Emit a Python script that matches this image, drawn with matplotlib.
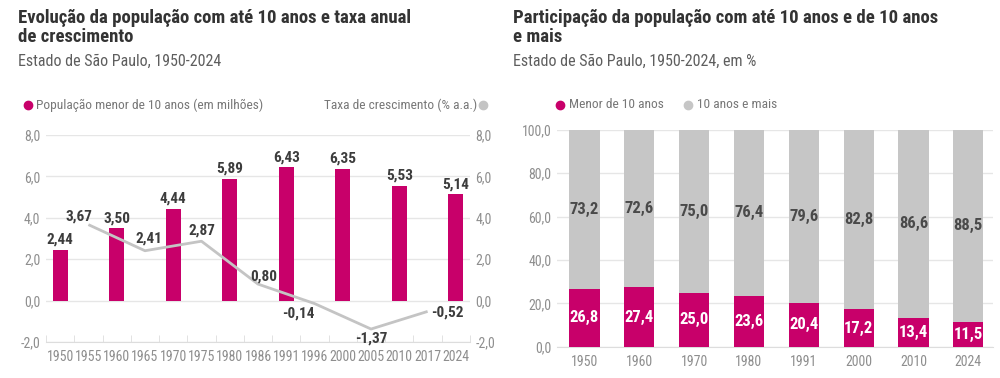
import matplotlib
matplotlib.use("Agg")
import matplotlib.pyplot as plt
import numpy as np

plt.rcParams['font.family'] = ['Roboto Condensed', 'Open Sans Condensed', 'DejaVu Sans Condensed', 'Roboto', 'DejaVu Sans']

PINK = '#C8006A'
GRAY = '#C6C6C6'
LINE = '#C4C4C4'
DARK = '#3C3C3C'
TICK = '#8E8E8E'
GRID = '#E6E6E6'

# ---- left chart data
anos_esq = ['1950', '1955', '1960', '1965', '1970', '1975', '1980', '1986',
            '1991', '1996', '2000', '2005', '2010', '2017', '2024']
anos_pop = ['1950', '1960', '1970', '1980', '1991', '2000', '2010', '2024']
pop_menor10 = [2.44, 3.50, 4.44, 5.89, 6.43, 6.35, 5.53, 5.14]
anos_taxa = ['1955', '1965', '1975', '1986', '1996', '2005', '2017']
taxa = [3.67, 2.41, 2.87, 0.80, -0.14, -1.37, -0.52]

# ---- right chart data
anos_part = ['1950', '1960', '1970', '1980', '1991', '2000', '2010', '2024']
menor10_pct = [26.8, 27.4, 25.0, 23.6, 20.4, 17.2, 13.4, 11.5]
mais10_pct = [73.2, 72.6, 75.0, 76.4, 79.6, 82.8, 86.6, 88.5]

fig = plt.figure(figsize=(10, 3.78), dpi=100)
fig.patch.set_facecolor('white')

def fmt(v, n=2):
    return f'{v:.{n}f}'.replace('.', ',')

# ================= left
ax = fig.add_axes([0.046, 0.095, 0.424, 0.548])
ax2 = ax.twinx()   # only for the right-hand tick labels (same scale)
pos = {a: i for i, a in enumerate(anos_esq)}
xp = [pos[a] for a in anos_pop]
xt = [pos[a] for a in anos_taxa]

ax.bar(xp, pop_menor10, width=0.53, color=PINK, zorder=3)
for x, v in zip(xp, pop_menor10):
    ax.text(x, v + 0.15, fmt(v), ha='center', va='bottom', fontsize=11,
            fontweight='bold', color=DARK, zorder=6)

ax.plot(xt, taxa, color=LINE, lw=2.0, zorder=4, solid_capstyle='butt')
offs = [(-7, 5.5), (3, 9), (0, 7.5), (4, 5.5), (-11.5, -7), (0, -7), (14, -0.5)]
for x, v, o in zip(xt, taxa, offs):
    ax.annotate(fmt(v), (x, v), xytext=o, textcoords='offset points',
                ha='center', va='center', fontsize=11, fontweight='bold',
                color=DARK, zorder=6)

for a in (ax, ax2):
    a.set_ylim(-2, 8)
    a.set_xlim(-0.5, 14.5)
    a.set_yticks(np.arange(-2, 9, 2))
    a.set_yticklabels([fmt(t, 1) for t in np.arange(-2, 9, 2)])
    for s in a.spines.values():
        s.set_visible(False)
    a.tick_params(axis='y', length=0, labelsize=10, labelcolor=TICK, pad=4)
ax.yaxis.grid(True, color=GRID, lw=1, zorder=0)
ax.set_axisbelow(True)
ax.spines['bottom'].set_visible(True)
ax.spines['bottom'].set_color('#DDDDDD')
ax.set_xticks(range(len(anos_esq)))
ax.set_xticklabels(anos_esq)
ax.tick_params(axis='x', length=0, labelsize=10, labelcolor=TICK, pad=6)
ax.set_xticks(np.arange(-0.5, 15, 1), minor=True)
ax.tick_params(axis='x', which='minor', direction='in', length=5, color='#DDDDDD')

# ================= right
bx = fig.add_axes([0.557, 0.0825, 0.436, 0.574])
xr = np.arange(len(anos_part))
bx.bar(xr, menor10_pct, width=0.55, color=PINK, zorder=3)
bx.bar(xr, mais10_pct, bottom=menor10_pct, width=0.55, color=GRAY, zorder=3)
for x, m, o in zip(xr, menor10_pct, mais10_pct):
    bx.text(x, m / 2, fmt(m, 1), ha='center', va='center', fontsize=12,
            fontweight='bold', color='white', zorder=5)
    bx.text(x, m + o / 2, fmt(o, 1), ha='center', va='center', fontsize=12,
            fontweight='bold', color='#4A4A4A', zorder=5)
bx.set_ylim(0, 100)
bx.set_xlim(-0.5, 7.45)
bx.set_yticks(np.arange(0, 101, 20))
bx.set_yticklabels([fmt(t, 1) for t in np.arange(0, 101, 20)])
bx.yaxis.grid(True, color=GRID, lw=1, zorder=0)
bx.set_axisbelow(True)
for s in bx.spines.values():
    s.set_visible(False)
bx.spines['bottom'].set_visible(True)
bx.spines['bottom'].set_color('#DDDDDD')
bx.set_xticks(xr)
bx.set_xticklabels(anos_part)
bx.tick_params(axis='x', length=0, labelsize=10, labelcolor=TICK, pad=6)
bx.tick_params(axis='y', length=0, labelsize=10, labelcolor=TICK, pad=4)

# ================= titles and legends
fig.text(0.018, 0.975, 'Evolução da população com até 10 anos e taxa anual\nde crescimento',
         ha='left', va='top', fontsize=13.5, fontweight='bold', color='#333333', linespacing=1.05)
fig.text(0.018, 0.837, 'Estado de São Paulo, 1950-2024', ha='left', va='center',
         fontsize=11.5, color='#5E5E5E')
fig.text(0.513, 0.975, 'Participação da população com até 10 anos e de 10 anos\ne mais',
         ha='left', va='top', fontsize=13.5, fontweight='bold', color='#333333', linespacing=1.05)
fig.text(0.513, 0.837, 'Estado de São Paulo, 1950-2024, em %', ha='left', va='center',
         fontsize=11.5, color='#5E5E5E')

ly = 1 - 105 / 378
fig.lines.append(plt.Line2D([0.028], [ly], marker='o', ms=6, color=PINK, transform=fig.transFigure))
fig.text(0.036, ly, 'População menor de 10 anos (em milhões)', ha='left', va='center', fontsize=9.6, color='#777777')
fig.text(0.477, ly, 'Taxa de crescimento (% a.a.)', ha='right', va='center', fontsize=9.6, color='#777777')
fig.lines.append(plt.Line2D([0.483], [ly], marker='o', ms=6, color=LINE, transform=fig.transFigure))

fig.lines.append(plt.Line2D([0.560], [ly], marker='o', ms=6, color=PINK, transform=fig.transFigure))
fig.text(0.569, ly, 'Menor de 10 anos', ha='left', va='center', fontsize=9.6, color='#777777')
fig.lines.append(plt.Line2D([0.688], [ly], marker='o', ms=6, color=GRAY, transform=fig.transFigure))
fig.text(0.697, ly, '10 anos e mais', ha='left', va='center', fontsize=9.6, color='#777777')

fig.savefig('out.png', dpi=100, facecolor='white')
